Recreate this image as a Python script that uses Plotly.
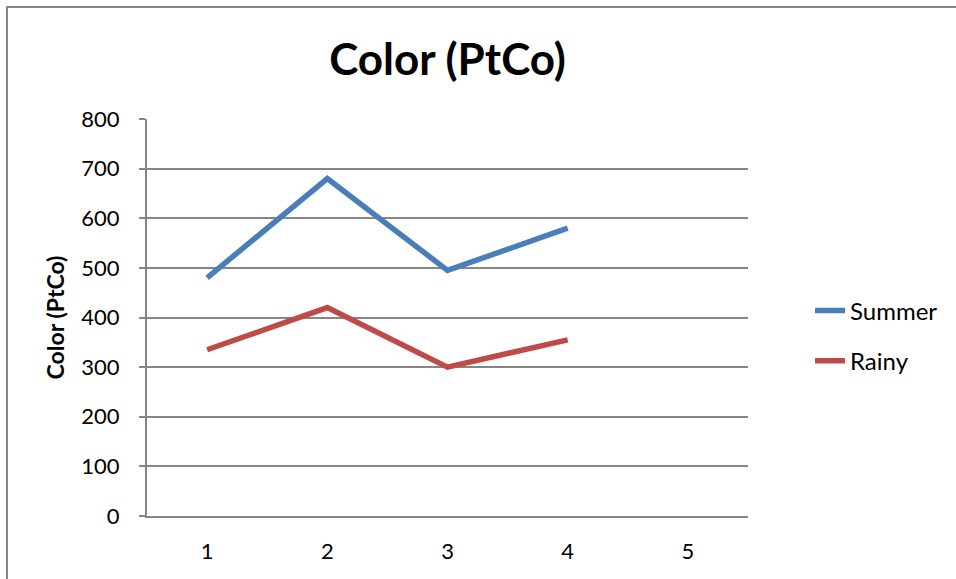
import plotly.graph_objects as go

categories = [1, 2, 3, 4, 5]
summer = [480, 680, 495, 580, None]
rainy = [335, 420, 300, 355, None]
y_ticks = [0, 100, 200, 300, 400, 500, 600, 700, 800]

W, H = 956, 579
L, R, T, B = 147, 748, 119, 516
font = "Lato"

fig = go.Figure()
fig.add_trace(go.Scatter(x=categories, y=summer, mode="lines", name="Summer",
                         legendgroup="s", line=dict(color="#4A7EBB", width=5.5)))
fig.add_trace(go.Scatter(x=categories, y=rainy, mode="lines", name="Rainy",
                         legendgroup="r", line=dict(color="#BE4B48", width=5.5)))

def px(x):
    return (x - L) / (R - L)

def py(y):
    return (B - y) / (B - T)

fig.update_layout(
    width=W, height=H,
    margin=dict(l=L, r=W - R, t=T, b=H - B, pad=0),
    paper_bgcolor="white", plot_bgcolor="white",
    font=dict(family=font, color="black", size=22),
    title=dict(text="<b>Color (PtCo)</b>", x=0.5, xref="paper", xanchor="center",
               y=1 - 60 / H, yanchor="middle", font=dict(size=44, family=font)),
    showlegend=True,
    legend=dict(x=px(810), y=py(336), xanchor="left", yanchor="middle",
                font=dict(size=24), tracegroupgap=16, itemwidth=30,
                bgcolor="rgba(0,0,0,0)"),
    xaxis=dict(range=[0.5, 5.5], tickvals=categories, ticktext=[str(c) for c in categories],
               showgrid=False, showline=True, linecolor="#868686", linewidth=2,
               ticks="outside", ticklen=15, tickcolor="rgba(0,0,0,0)",
               zeroline=False, tickfont=dict(size=22)),
    yaxis=dict(range=[0, 800], tickvals=y_ticks, showgrid=True, gridcolor="#868686",
               gridwidth=1.5, showline=True, linecolor="#868686", linewidth=2,
               ticks="outside", ticklen=6, tickcolor="#868686", tickwidth=1.5,
               ticklabelstandoff=15, zeroline=False, tickfont=dict(size=22),
               title=dict(text="<b>Color (PtCo)</b>", font=dict(size=23), standoff=10)),
    shapes=[
        dict(type="path", xref="paper", yref="paper",
             path=f"M {px(7)} {py(600)} L {px(7)} {py(7)} L {px(960)} {py(7)}",
             line=dict(color="#868686", width=2)),
    ],
)

fig.write_html("out.html", config={"displayModeBar": False},
               post_script="document.body.style.margin='0';document.body.style.overflow='hidden';")
